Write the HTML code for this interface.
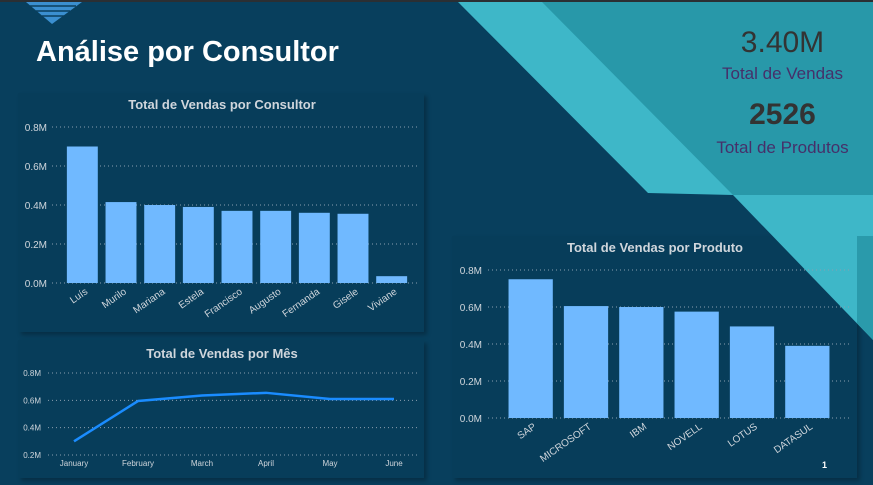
<!DOCTYPE html>
<html><head><meta charset="utf-8">
<style>
body{margin:0;width:873px;height:485px;overflow:hidden;background:#083f5d;font-family:"Liberation Sans",sans-serif;position:relative}
.abs{position:absolute}
.panel{position:absolute;background:#073d5a;box-shadow:3px 3px 4px rgba(0,0,0,0.25)}
.t{fill:#d0d6dc;font-family:"Liberation Sans",sans-serif}
</style></head><body>
<div class="abs" style="left:0;top:0;width:873px;height:2px;background:#2b2f33"></div>
<div class="panel" style="left:18px;top:93px;width:406px;height:239px"></div>
<div class="panel" style="left:18px;top:340px;width:406px;height:138px"></div>
<div class="panel" style="left:452px;top:236px;width:405px;height:242px"></div>
<svg class="abs" style="left:0;top:0" width="873" height="485">
<polygon points="458,2 873,2 873,340 733,195 648,193" fill="#3eb7c8"/>
<polygon points="542,2 873,2 873,195 733,195" fill="#2898a9"/>
<polygon points="857,236 873,236 873,340 857,323" fill="#2a9aab"/>
<polygon points="26,2 82,2 52,24" fill="#3b8fd0"/>
<line x1="30" y1="6" x2="76" y2="6" stroke="#0b3f5e" stroke-width="1.5"/>
<line x1="36" y1="11" x2="70" y2="11" stroke="#0b3f5e" stroke-width="1.5"/>
<line x1="42" y1="16" x2="64" y2="16" stroke="#0b3f5e" stroke-width="1.5"/>
</svg>
<div class="abs" style="left:36px;top:36px;color:#fff;font-size:29px;font-weight:bold">Análise por Consultor</div>
<div class="abs" style="left:700px;top:26px;width:165px;text-align:center;color:#333;font-size:30px">3.40M</div>
<div class="abs" style="left:700px;top:64px;width:165px;text-align:center;color:#46306a;font-size:17px">Total de Vendas</div>
<div class="abs" style="left:700px;top:98px;width:165px;text-align:center;color:#333;font-size:30px;font-weight:bold">2526</div>
<div class="abs" style="left:700px;top:138px;width:165px;text-align:center;color:#46306a;font-size:17px">Total de Produtos</div>

<svg id="c" class="abs" style="left:0;top:0" width="873" height="485"></svg>
<div class="abs" style="left:822px;top:460px;color:#fff;font-size:9px;font-weight:bold">1</div>
<script>
const consultores=["Luís","Murilo","Mariana","Estela","Francisco","Augusto","Fernanda","Gisele","Viviane"];
const vendasConsultor=[0.70,0.415,0.40,0.39,0.37,0.37,0.36,0.355,0.035];
const ticksConsultor=[0,0.2,0.4,0.6,0.8];
const meses=["January","February","March","April","May","June"];
const vendasMes=[0.30,0.595,0.635,0.655,0.61,0.61];
const ticksMes=[0.2,0.4,0.6,0.8];
const produtos=["SAP","MICROSOFT","IBM","NOVELL","LOTUS","DATASUL"];
const vendasProduto=[0.75,0.605,0.60,0.575,0.495,0.39];
const ticksProduto=[0,0.2,0.4,0.6,0.8];

const svg=document.getElementById('c');
const NS="http://www.w3.org/2000/svg";
function el(tag,attrs,parent){const e=document.createElementNS(NS,tag);for(const k in attrs)e.setAttribute(k,attrs[k]);(parent||svg).appendChild(e);return e;}
function txt(x,y,s,size,anchor,extra){const e=el('text',Object.assign({x:x,y:y,'font-size':size,'text-anchor':anchor,class:'t'},extra||{}));e.textContent=s;return e;}

function barChart(o){
  const y=v=>o.y0-(v-o.vmin)/(o.vmax-o.vmin)*(o.y0-o.y1);
  const t=txt(o.titleX,o.titleY,o.title,13,'middle',{'font-weight':'bold'});
  
  
  o.ticks.forEach(v=>{
    const g=el('line',{x1:o.gx0,x2:o.gx1,y1:y(v),y2:y(v),stroke:'#8a9fb0','stroke-dasharray':'1 3','stroke-width':1});
    
    
    const l=txt(o.lx,y(v)+4,v.toFixed(1)+'M',o.fs,'end');
    
    
  });
  const bw=(o.px1-o.px0)/o.cats.length;
  o.cats.forEach((c,i)=>{
    const x=o.px0+bw*i+bw*0.1;
    const r=el('rect',{x:x,y:y(o.vals[i]),width:bw*0.8,height:o.y0-y(o.vals[i]),fill:'#70b9ff'});
    
    
    const cx=x+bw*0.8/2+6;
    const l=txt(cx,o.y0+10,c,o.fs,'end',{transform:'rotate(-35 '+cx+' '+(o.y0+10)+')'});
    
    
  });
}
barChart({name:'consultor',title:'Total de Vendas por Consultor',titleX:222,titleY:109,cats:consultores,vals:vendasConsultor,ticks:ticksConsultor,vmin:0,vmax:0.8,y0:283,y1:127,gx0:52,gx1:418,lx:47,px0:63,px1:411,fs:10});
barChart({name:'produto',title:'Total de Vendas por Produto',titleX:655,titleY:252,cats:produtos,vals:vendasProduto,ticks:ticksProduto,vmin:0,vmax:0.8,y0:418,y1:270,gx0:488,gx1:852,lx:482,px0:503,px1:835,fs:10});

(function(){
  const y0=455,y1=373,vmin=0.2,vmax=0.8;
  const y=v=>y0-(v-vmin)/(vmax-vmin)*(y0-y1);
  const x=i=>74+i*(394-74)/(meses.length-1);
  const t=txt(222,358,'Total de Vendas por Mês',13,'middle',{'font-weight':'bold'});
  
  
  ticksMes.forEach(v=>{
    const g=el('line',{x1:48,x2:418,y1:y(v),y2:y(v),stroke:'#8a9fb0','stroke-dasharray':'1 3'});
    
    
    const l=txt(41,y(v)+3,v.toFixed(1)+'M',8,'end');
    
    
  });
  meses.forEach((m,i)=>{
    const l=txt(x(i),466,m,8,'middle');
    
    
  });
  const p=el('polyline',{points:vendasMes.map((v,i)=>x(i)+','+y(v)).join(' '),fill:'none',stroke:'#1a8cff','stroke-width':2.5});
  
  
})();
</script>
</body></html>
